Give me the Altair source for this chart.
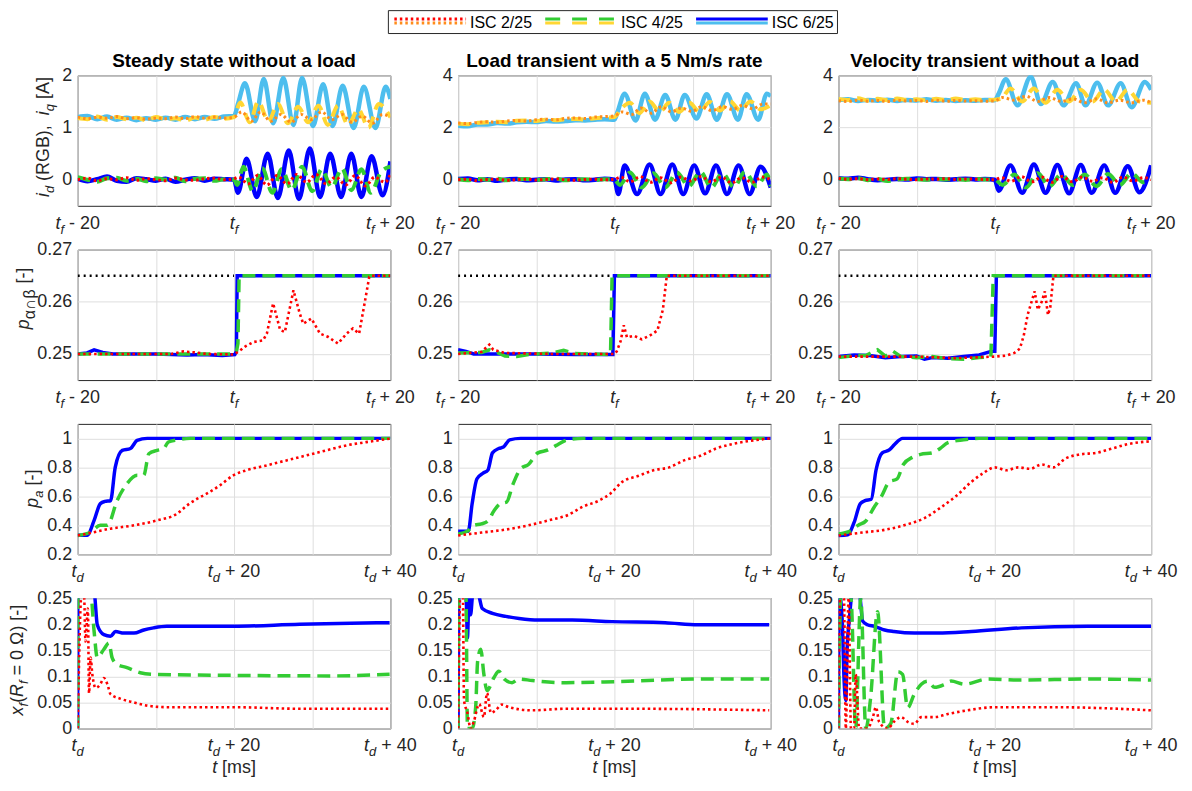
import altair as alt
import pandas as pd

FONT = "Liberation Sans"
INK = "#262626"
GRID = "#dedede"
RED, ORANGE, GREEN, YELLOW, BLUE, LBLUE = "#ff0000", "#ff8c1a", "#33cc33", "#ffd633", "#0000ff", "#4dbeee"

TITLES = ["Steady state without a load", "Load transient with a 5 Nm/s rate",
          "Velocity transient without a load"]
LEGEND_LABELS = ["ISC 2/25", "ISC 4/25", "ISC 6/25"]

# ---------------- Row 1: currents (t - t_f, ms) ----------------
TB = [-20.0, -18.75, -17.5, -16.25, -15.0, -13.75, -12.5, -11.25, -10.0, -8.75, -7.5, -6.25, -5.0, -3.75, -2.5, -1.25, 0.0]

# column 1: steady state
R1C1_IQ6_PRE = [1.20, 1.22, 1.16, 1.21, 1.15, 1.19, 1.14, 1.18, 1.15, 1.19, 1.15, 1.20, 1.16, 1.20, 1.17, 1.21, 1.22]
R1C1_IQ6_T = [0.5, 1.4, 2.7, 3.8, 5.0, 6.3, 7.6, 8.7, 10.1, 11.4, 12.6, 13.9, 15.3, 16.6, 18.1, 19.4, 20.0]
R1C1_IQ6_V = [1.45, 1.85, 1.12, 1.93, 1.08, 1.95, 1.05, 1.95, 1.03, 1.83, 1.03, 1.80, 0.99, 1.78, 0.99, 1.78, 1.55]
R1C1_IQ4_PRE = [1.18, 1.16, 1.21, 1.15, 1.20, 1.16, 1.19, 1.14, 1.20, 1.16, 1.18, 1.13, 1.19, 1.15, 1.20, 1.17, 1.20]
R1C1_IQ4_T = [0.8, 2.0, 3.1, 4.4, 5.6, 6.9, 8.2, 9.5, 10.8, 12.0, 13.3, 14.6, 15.9, 17.2, 18.5, 20.0]
R1C1_IQ4_V = [1.48, 1.10, 1.50, 1.12, 1.45, 1.08, 1.40, 1.10, 1.42, 1.05, 1.42, 1.05, 1.35, 1.00, 1.45, 1.20]
R1C1_IQ2_PRE = [1.20, 1.17, 1.20, 1.18, 1.21, 1.17, 1.19, 1.16, 1.18, 1.17, 1.20, 1.17, 1.21, 1.18, 1.20, 1.18, 1.20]
R1C1_IQ2_T = [1.0, 2.2, 3.4, 4.7, 6.0, 7.3, 8.6, 9.9, 11.2, 12.5, 13.8, 15.1, 16.4, 17.7, 19.0, 20.0]
R1C1_IQ2_V = [1.30, 1.12, 1.30, 1.12, 1.25, 1.10, 1.25, 1.15, 1.30, 1.15, 1.25, 1.10, 1.22, 1.08, 1.25, 1.20]
R1C1_ID6_PRE = [0.02, -0.03, 0.01, 0.06, -0.02, -0.04, 0.03, 0.01, -0.02, 0.02, -0.04, 0.00, 0.03, -0.02, 0.02, 0.01, 0.00]
R1C1_ID6_T = [0.5, 1.6, 2.9, 4.3, 5.6, 7.0, 8.3, 9.7, 11.0, 12.3, 13.7, 15.0, 16.3, 17.6, 19.0, 20.0]
R1C1_ID6_V = [-0.25, 0.40, -0.33, 0.50, -0.35, 0.56, -0.37, 0.60, -0.33, 0.50, -0.33, 0.50, -0.33, 0.45, -0.30, 0.35]
R1C1_ID4_PRE = [0.05, 0.00, -0.04, 0.03, 0.04, -0.02, 0.02, -0.03, 0.03, 0.00, 0.04, -0.03, 0.02, 0.03, -0.02, 0.01, 0.00]
R1C1_ID4_T = [0.4, 1.2, 2.4, 3.6, 4.9, 6.1, 7.4, 8.7, 10.0, 11.2, 12.5, 13.8, 15.0, 16.3, 17.5, 18.8, 20.0]
R1C1_ID4_V = [-0.10, 0.25, -0.22, 0.22, -0.25, 0.20, -0.20, 0.25, -0.22, 0.20, -0.15, 0.22, -0.20, 0.20, -0.25, 0.15, 0.25]
R1C1_ID2_PRE = [0.00, 0.03, -0.02, 0.02, 0.00, 0.04, -0.01, 0.02, 0.00, -0.02, 0.03, 0.00, -0.01, 0.02, 0.03, 0.00, 0.02]
R1C1_ID2_T = [0.6, 1.8, 3.0, 4.2, 5.5, 6.8, 8.0, 9.3, 10.5, 11.8, 13.0, 14.3, 15.5, 16.8, 18.0, 19.3, 20.0]
R1C1_ID2_V = [0.05, -0.08, 0.08, -0.10, 0.08, -0.08, 0.10, -0.05, 0.10, -0.08, 0.05, -0.10, 0.08, -0.12, 0.05, -0.05, 0.10]

# column 2: load transient
R1C2_IQ6_PRE = [2.07, 2.05, 2.12, 2.12, 2.17, 2.15, 2.20, 2.22, 2.21, 2.25, 2.23, 2.25, 2.28, 2.27, 2.30, 2.32, 2.30]
R1C2_IQ6_T = [0.4, 1.3, 2.7, 3.9, 5.2, 6.5, 7.8, 9.0, 10.5, 11.8, 13.1, 14.4, 15.8, 16.9, 18.4, 19.5, 20.0]
R1C2_IQ6_V = [2.60, 3.30, 2.27, 3.30, 2.30, 3.25, 2.30, 3.25, 2.35, 3.28, 2.30, 3.28, 2.30, 3.28, 2.30, 3.30, 3.20]
R1C2_IQ4_PRE = [2.15, 2.13, 2.18, 2.20, 2.22, 2.20, 2.26, 2.27, 2.25, 2.30, 2.28, 2.32, 2.33, 2.31, 2.36, 2.38, 2.40]
R1C2_IQ4_T = [0.8, 2.0, 3.2, 4.5, 5.8, 7.0, 8.3, 9.6, 10.9, 12.2, 13.5, 14.8, 16.1, 17.4, 18.7, 20.0]
R1C2_IQ4_V = [2.70, 2.95, 2.55, 3.00, 2.60, 2.95, 2.60, 2.95, 2.60, 2.98, 2.65, 3.00, 2.65, 3.00, 2.70, 2.85]
R1C2_IQ2_PRE = [2.17, 2.15, 2.20, 2.22, 2.20, 2.25, 2.27, 2.25, 2.30, 2.32, 2.30, 2.35, 2.37, 2.35, 2.40, 2.42, 2.45]
R1C2_IQ2_T = [1.0, 2.2, 3.4, 4.7, 6.0, 7.3, 8.6, 9.9, 11.2, 12.5, 13.8, 15.1, 16.4, 17.7, 19.0, 20.0]
R1C2_IQ2_V = [2.60, 2.50, 2.75, 2.55, 2.80, 2.60, 2.75, 2.62, 2.80, 2.65, 2.80, 2.70, 2.85, 2.72, 2.90, 2.90]
R1C2_ID6_PRE = [0.03, 0.05, -0.02, 0.02, -0.04, 0.01, 0.03, -0.02, 0.00, 0.02, -0.03, 0.01, 0.02, -0.02, 0.00, 0.04, 0.00]
R1C2_ID6_T = [0.5, 1.3, 2.9, 4.5, 5.9, 7.4, 8.8, 10.2, 11.6, 13.0, 14.4, 15.9, 17.3, 18.7, 20.0]
R1C2_ID6_V = [-0.55, 0.55, -0.55, 0.58, -0.55, 0.58, -0.55, 0.55, -0.52, 0.55, -0.55, 0.55, -0.55, 0.50, -0.30]
R1C2_ID4_PRE = [0.02, -0.02, 0.03, 0.00, 0.04, -0.02, 0.01, 0.03, -0.01, 0.02, 0.04, -0.02, 0.01, 0.02, -0.01, 0.02, 0.00]
R1C2_ID4_T = [0.7, 2.0, 3.5, 5.0, 6.5, 8.0, 9.5, 11.0, 12.4, 13.8, 15.3, 16.7, 18.2, 19.5, 20.0]
R1C2_ID4_V = [-0.20, 0.28, -0.30, 0.25, -0.30, 0.28, -0.25, 0.30, -0.30, 0.25, -0.28, 0.30, -0.25, 0.20, -0.25]
R1C2_ID2_PRE = [0.00, 0.02, -0.03, 0.01, 0.02, -0.02, 0.00, 0.02, -0.01, 0.01, 0.03, 0.00, -0.02, 0.01, 0.02, 0.00, 0.01]
R1C2_ID2_T = [0.8, 2.0, 3.3, 4.6, 5.9, 7.2, 8.5, 9.8, 11.1, 12.4, 13.7, 15.0, 16.3, 17.6, 18.9, 20.0]
R1C2_ID2_V = [0.10, -0.08, 0.12, -0.10, 0.08, -0.12, 0.10, -0.05, 0.12, -0.08, 0.10, -0.12, 0.08, -0.10, 0.10, 0.00]

# column 3: velocity transient
R1C3_IQ6_PRE = [3.05, 3.08, 3.02, 3.06, 3.03, 3.07, 3.02, 3.06, 3.04, 3.08, 3.03, 3.06, 3.02, 3.05, 3.03, 3.06, 3.05]
R1C3_IQ6_T = [0.5, 1.4, 2.9, 4.6, 5.9, 7.4, 8.8, 10.4, 11.6, 13.1, 14.5, 16.1, 17.5, 19.2, 20.0]
R1C3_IQ6_V = [3.30, 3.85, 2.85, 3.95, 2.90, 3.75, 2.85, 3.70, 2.85, 3.72, 2.85, 3.70, 2.78, 3.75, 3.45]
R1C3_IQ4_PRE = [3.10, 3.06, 3.12, 3.04, 3.10, 3.05, 3.11, 3.06, 3.08, 3.04, 3.10, 3.05, 3.11, 3.06, 3.08, 3.05, 3.07]
R1C3_IQ4_T = [0.8, 2.0, 3.5, 5.0, 6.5, 8.0, 9.5, 11.0, 12.5, 14.0, 15.5, 17.0, 18.5, 20.0]
R1C3_IQ4_V = [3.10, 3.50, 3.00, 3.50, 2.95, 3.45, 3.00, 3.45, 3.00, 3.45, 3.00, 3.45, 3.00, 2.95]
R1C3_IQ2_PRE = [3.03, 3.00, 3.05, 3.01, 3.04, 3.00, 3.05, 3.02, 3.04, 3.00, 3.05, 3.01, 3.04, 3.02, 3.03, 3.01, 3.02]
R1C3_IQ2_T = [1.0, 2.5, 4.0, 5.5, 7.0, 8.5, 10.0, 11.5, 13.0, 14.5, 16.0, 17.5, 19.0, 20.0]
R1C3_IQ2_V = [3.15, 3.05, 3.20, 3.00, 3.15, 3.00, 3.10, 2.95, 3.10, 2.95, 3.05, 2.95, 3.05, 2.95]
R1C3_ID6_PRE = [0.06, 0.04, 0.08, 0.02, -0.02, 0.00, 0.03, 0.01, 0.05, 0.02, 0.03, 0.00, 0.02, 0.04, 0.01, 0.03, 0.00]
R1C3_ID6_T = [0.5, 2.0, 3.5, 5.0, 6.5, 8.0, 9.5, 11.0, 12.4, 14.0, 15.4, 17.0, 18.5, 20.0]
R1C3_ID6_V = [-0.42, 0.55, -0.50, 0.58, -0.50, 0.56, -0.52, 0.56, -0.50, 0.55, -0.50, 0.52, -0.48, 0.55]
R1C3_ID4_PRE = [0.05, 0.02, 0.06, -0.02, 0.03, -0.05, 0.01, 0.04, 0.02, 0.00, 0.03, 0.01, 0.02, -0.01, 0.03, 0.01, 0.00]
R1C3_ID4_T = [1.0, 2.5, 4.0, 5.5, 7.0, 8.5, 10.0, 11.5, 13.0, 14.5, 16.0, 17.5, 19.0, 20.0]
R1C3_ID4_V = [-0.20, 0.20, -0.30, 0.25, -0.25, 0.20, -0.20, 0.20, -0.25, 0.22, -0.20, 0.25, -0.10, 0.00]
R1C3_ID2_PRE = [0.05, 0.02, 0.04, 0.00, 0.03, 0.01, 0.04, 0.02, 0.00, 0.03, 0.02, 0.04, 0.01, 0.03, 0.02, 0.01, 0.00]
R1C3_ID2_T = [0.8, 2.1, 3.4, 4.7, 6.0, 7.3, 8.6, 9.9, 11.2, 12.5, 13.8, 15.1, 16.4, 17.7, 19.0, 20.0]
R1C3_ID2_V = [0.08, -0.06, 0.12, -0.08, 0.10, -0.10, 0.12, -0.08, 0.10, -0.06, 0.08, -0.10, 0.10, -0.05, 0.08, 0.00]

# ---------------- Row 2: p_{alpha cap beta} ----------------
R2_REF_T = [-20, 0]
R2_REF_V = [0.265, 0.265]
R2C1_B_T = [-20, -18.8, -17.9, -16.8, -15.5, -10, -6, -4, -1.5, 0.1, 0.3, 0.4, 20]
R2C1_B_V = [0.25, 0.2502, 0.2508, 0.2503, 0.25, 0.25, 0.2498, 0.2499, 0.2497, 0.2499, 0.2505, 0.265, 0.265]
R2C1_G_T = [-20, -10, 0, 0.3, 0.5, 0.65, 20]
R2C1_G_V = [0.25, 0.25, 0.25, 0.2505, 0.252, 0.265, 0.265]
R2C1_R_T = [-20, -8, -6.5, -5, -3.5, 0, 0.8, 1.5, 2.5, 3.7, 4.2, 5.0, 5.9, 6.5, 7.6, 8.4, 8.85, 9.9, 11.0, 12.0,
            13.3, 14.4, 15.2, 16.0, 16.7, 17.3, 17.5, 20]
R2C1_R_V = [0.25, 0.25, 0.2505, 0.2503, 0.25, 0.2499, 0.2507, 0.2515, 0.2523, 0.2526, 0.2539, 0.2597, 0.2546,
            0.2542, 0.2622, 0.2578, 0.2558, 0.2568, 0.2539, 0.2533, 0.252, 0.2539, 0.2549, 0.2539, 0.2597, 0.2648,
            0.265, 0.265]
R2C2_B_T = [-20, -19, -18, -10, -5, -0.2, 0, 20]
R2C2_B_V = [0.2508, 0.2505, 0.25, 0.25, 0.2499, 0.2499, 0.265, 0.265]
R2C2_G_T = [-20, -17, -16, -15, -14, -12.5, -11, -8, -6.5, -5, -3, -0.5, -0.3, 20]
R2C2_G_V = [0.2502, 0.2503, 0.2508, 0.2503, 0.2496, 0.2495, 0.2499, 0.2502, 0.2507, 0.2501, 0.25, 0.2499, 0.265, 0.265]
R2C2_R_T = [-20, -17, -16, -15.5, -14, -8, 0, 0.3, 0.8, 1.2, 1.6, 2.5, 3.5, 4.5, 5.5, 6.2, 6.7, 20]
R2C2_R_V = [0.25, 0.2504, 0.2518, 0.2508, 0.2502, 0.25, 0.25, 0.2505, 0.2525, 0.2555, 0.2532, 0.2535, 0.2528,
            0.2535, 0.2545, 0.2585, 0.265, 0.265]
R2C3_B_T = [-20, -18, -16, -14, -12, -10, -9, -8, -6, -4, -2, -0.5, 0, 0.2, 20]
R2C3_B_V = [0.2495, 0.2498, 0.2497, 0.2493, 0.2495, 0.2496, 0.249, 0.2493, 0.2492, 0.2495, 0.2498, 0.2505, 0.2505,
            0.265, 0.265]
R2C3_G_T = [-20, -18, -16.5, -15, -14, -13, -12, -10, -8, -6, -4, -2, -0.5, -0.2, 20]
R2C3_G_V = [0.2493, 0.2497, 0.2497, 0.2508, 0.2496, 0.2505, 0.2495, 0.2493, 0.2495, 0.2491, 0.249, 0.2493, 0.2495,
            0.265, 0.265]
R2C3_R_T = [-20, -10, -5, 0, 1.5, 2.5, 3.2, 3.7, 4.2, 4.7, 5.1, 5.5, 6.0, 6.4, 6.8, 7.1, 7.5, 20]
R2C3_R_V = [0.2495, 0.2495, 0.2492, 0.2495, 0.2497, 0.2502, 0.251, 0.2535, 0.2575, 0.26, 0.262, 0.2585, 0.26, 0.262,
            0.2575, 0.259, 0.265, 0.265]

# ---------------- Row 3: p_a (t - t_d, ms) ----------------
R3C1_B_T = [0, 1.2, 2.1, 2.9, 3.5, 4.2, 4.8, 5.7, 6.75, 7.6, 8.9, 40]
R3C1_B_V = [0.331, 0.331, 0.434, 0.55, 0.565, 0.57, 0.80, 0.917, 0.93, 0.986, 1.0, 1.0]
R3C1_G_T = [0, 1.65, 2.9, 3.8, 5.05, 6.3, 7.6, 8.45, 9.1, 10.15, 11.0, 11.6, 12.7, 14.4, 40]
R3C1_G_V = [0.33, 0.354, 0.40, 0.40, 0.572, 0.687, 0.745, 0.745, 0.894, 0.917, 0.93, 0.975, 0.99, 1.0, 1.0]
R3C1_R_T = [0, 1.2, 4.2, 7.2, 10.15, 12.7, 14.0, 15.3, 16.5, 18.2, 19.9, 21.6, 24.2, 26.7, 29.3, 31.8, 34.4, 36.9, 39.9]
R3C1_R_V = [0.33, 0.343, 0.377, 0.40, 0.434, 0.48, 0.538, 0.584, 0.618, 0.676, 0.745, 0.78, 0.814, 0.848, 0.883,
            0.917, 0.952, 0.974, 0.998]
R3C2_B_T = [0, 1.3, 1.8, 2.4, 3.2, 3.8, 4.4, 5.2, 5.8, 6.6, 8.0, 40]
R3C2_B_V = [0.36, 0.36, 0.55, 0.72, 0.76, 0.78, 0.90, 0.93, 0.94, 0.99, 1.0, 1.0]
R3C2_G_T = [0, 1.2, 2.0, 3.0, 3.8, 4.6, 5.4, 6.2, 7.0, 8.0, 9.0, 10.2, 11.5, 12.5, 14.0, 16.0, 40]
R3C2_G_V = [0.34, 0.36, 0.40, 0.41, 0.43, 0.50, 0.55, 0.56, 0.68, 0.79, 0.82, 0.90, 0.92, 0.95, 0.99, 1.0, 1.0]
R3C2_R_T = [0, 3, 6, 9, 12, 14, 16, 18, 19.5, 21, 23, 25, 27, 29, 31, 33, 35, 37, 40]
R3C2_R_V = [0.33, 0.35, 0.37, 0.40, 0.44, 0.47, 0.53, 0.57, 0.62, 0.70, 0.74, 0.78, 0.80, 0.85, 0.88, 0.93, 0.96,
            0.98, 1.0]
R3C3_B_T = [0, 1.2, 2.0, 2.8, 3.4, 4.2, 4.8, 5.6, 6.5, 7.2, 8.2, 40]
R3C3_B_V = [0.33, 0.335, 0.42, 0.55, 0.57, 0.58, 0.78, 0.90, 0.92, 0.96, 1.0, 1.0]
R3C3_G_T = [0, 1.5, 2.5, 3.5, 4.5, 5.5, 6.5, 7.5, 8.3, 9.5, 10.5, 12, 13, 14, 16, 18, 40]
R3C3_G_V = [0.34, 0.36, 0.40, 0.43, 0.52, 0.60, 0.70, 0.72, 0.82, 0.87, 0.89, 0.90, 0.93, 0.97, 0.99, 1.0, 1.0]
R3C3_R_T = [0, 3, 6, 9, 11, 13, 15, 17, 18.5, 20, 21.5, 23, 24.5, 26, 27.5, 29, 31, 33, 35, 37, 40]
R3C3_R_V = [0.33, 0.35, 0.37, 0.41, 0.45, 0.52, 0.60, 0.70, 0.76, 0.80, 0.78, 0.80, 0.79, 0.82, 0.80, 0.86, 0.89,
            0.90, 0.93, 0.96, 0.98]

# ---------------- Row 4: x_f(R_f = 0) ----------------
R4C1_B_T = [0, 0.02, 2.1, 2.5, 3.35, 4.2, 4.84, 5.9, 7.2, 8.45, 9.7, 11.4, 19.9, 28.4, 39.9]
R4C1_B_V = [0, 0.26, 0.26, 0.199, 0.18, 0.177, 0.186, 0.183, 0.183, 0.189, 0.193, 0.196, 0.196, 0.2, 0.203]
R4C1_G_T = [0, 0.02, 1.65, 2.1, 2.5, 3.35, 4.0, 4.4, 5.05, 6.3, 8.0, 9.7, 19.9, 32.6, 39.9]
R4C1_G_V = [0, 0.26, 0.26, 0.186, 0.136, 0.152, 0.164, 0.136, 0.123, 0.117, 0.107, 0.104, 0.102, 0.101, 0.104]
R4C1_R_T = [0, 0.5, 0.8, 1.0, 1.3, 1.45, 1.65, 1.87, 2.3, 2.9, 3.35, 3.8, 4.2, 5.5, 7.2, 8.9, 11.4, 19.9, 28.4, 39.9]
R4C1_R_V = [0, 0.26, 0.26, 0.167, 0.23, 0.068, 0.136, 0.104, 0.078, 0.085, 0.097, 0.085, 0.066, 0.057, 0.05, 0.044,
            0.041, 0.041, 0.038, 0.038]
R4C2_B_T = [0, 0.1, 1.0, 1.2, 1.4, 1.6, 1.9, 2.5, 3.1, 4.4, 6.1, 7.8, 10.3, 14.6, 19.7, 26.5, 30.7, 39.8]
R4C2_B_V = [0, 0.26, 0.26, 0.174, 0.26, 0.218, 0.26, 0.26, 0.23, 0.221, 0.215, 0.211, 0.208, 0.208, 0.205, 0.203,
            0.199, 0.199]
R4C2_G_T = [0, 0.05, 1.0, 1.2, 1.8, 2.25, 2.5, 2.9, 3.3, 3.7, 4.6, 5.2, 5.9, 6.9, 7.8, 9.5, 13.7, 20.1, 30.7, 39.8]
R4C2_G_V = [0, 0.26, 0.26, 0.0, 0.0, 0.041, 0.129, 0.152, 0.104, 0.073, 0.098, 0.11, 0.095, 0.088, 0.095, 0.092,
            0.088, 0.09, 0.095, 0.095]
R4C2_R_T = [0, 0.3, 0.6, 0.76, 1.2, 1.6, 2.0, 2.7, 3.3, 3.7, 4.2, 4.8, 5.6, 6.5, 9.5, 13.7, 22.2, 39.8]
R4C2_R_V = [0, 0.26, 0.26, 0.054, 0.03, 0.0, 0.013, 0.047, 0.022, 0.068, 0.03, 0.035, 0.046, 0.041, 0.035, 0.038,
            0.038, 0.035]
R4C3_B_T = [0, 0.1, 0.5, 0.7, 0.94, 1.1, 1.37, 1.8, 2.65, 3.1, 3.7, 4.6, 5.9, 7.1, 9.7, 12.7, 17.0, 23.4, 31.9, 40]
R4C3_B_V = [0, 0.26, 0.2, 0.1, 0.054, 0.15, 0.206, 0.26, 0.26, 0.206, 0.199, 0.196, 0.189, 0.186, 0.183, 0.183,
            0.186, 0.193, 0.196, 0.196]
R4C3_G_T = [0, 0.3, 1.0, 1.6, 2.2, 2.85, 3.5, 4.1, 5.0, 5.9, 6.7, 7.6, 8.2, 8.85, 9.7, 10.6, 11.4, 12.3, 13.6, 14.4,
            16.1, 19.1, 23.4, 31.9, 40]
R4C3_G_V = [0, 0.26, 0.26, 0.25, 0.0, 0.25, 0.0, 0.057, 0.224, 0.0, 0.01, 0.109, 0.104, 0.04, 0.066, 0.085, 0.091,
            0.079, 0.085, 0.091, 0.085, 0.095, 0.093, 0.095, 0.093]
R4C3_R_T = [0, 0.2, 0.7, 0.94, 1.3, 1.6, 2.0, 2.2, 2.65, 3.7, 4.4, 4.8, 5.2, 6.3, 7.1, 8.0, 8.85, 9.7, 10.6, 12.3,
            14.0, 16.5, 20, 27.7, 40]
R4C3_R_V = [0, 0.26, 0.25, 0.0, 0.25, 0.0, 0.0, 0.104, 0.0, 0.0, 0.022, 0.041, 0.013, 0.0, 0.013, 0.022, 0.013,
            0.009, 0.022, 0.022, 0.028, 0.035, 0.041, 0.041, 0.035]

# axis ranges / ticks per row (and per column for row 1)
Y_SPECS = {
    (0, 0): ([-0.5, 2], [0, 1, 2]),
    (0, 1): ([-1, 4], [0, 2, 4]),
    (0, 2): ([-1, 4], [0, 2, 4]),
}
for _c in range(3):
    Y_SPECS[(1, _c)] = ([0.245, 0.27], [0.25, 0.26, 0.27])
    Y_SPECS[(2, _c)] = ([0.2, 1.1], [0.2, 0.4, 0.6, 0.8, 1])
    Y_SPECS[(3, _c)] = ([0, 0.25], [0, 0.05, 0.1, 0.15, 0.2, 0.25])


def pre_post(pre, t, v):
    return TB + t, pre + v


SERIES = {
    (0, 0): [(*pre_post(R1C1_IQ6_PRE, R1C1_IQ6_T, R1C1_IQ6_V), "lblue"),
             (*pre_post(R1C1_IQ4_PRE, R1C1_IQ4_T, R1C1_IQ4_V), "yellow"),
             (*pre_post(R1C1_IQ2_PRE, R1C1_IQ2_T, R1C1_IQ2_V), "orange"),
             (*pre_post(R1C1_ID6_PRE, R1C1_ID6_T, R1C1_ID6_V), "blue"),
             (*pre_post(R1C1_ID4_PRE, R1C1_ID4_T, R1C1_ID4_V), "green"),
             (*pre_post(R1C1_ID2_PRE, R1C1_ID2_T, R1C1_ID2_V), "red")],
    (0, 1): [(*pre_post(R1C2_IQ6_PRE, R1C2_IQ6_T, R1C2_IQ6_V), "lblue"),
             (*pre_post(R1C2_IQ4_PRE, R1C2_IQ4_T, R1C2_IQ4_V), "yellow"),
             (*pre_post(R1C2_IQ2_PRE, R1C2_IQ2_T, R1C2_IQ2_V), "orange"),
             (*pre_post(R1C2_ID6_PRE, R1C2_ID6_T, R1C2_ID6_V), "blue"),
             (*pre_post(R1C2_ID4_PRE, R1C2_ID4_T, R1C2_ID4_V), "green"),
             (*pre_post(R1C2_ID2_PRE, R1C2_ID2_T, R1C2_ID2_V), "red")],
    (0, 2): [(*pre_post(R1C3_IQ6_PRE, R1C3_IQ6_T, R1C3_IQ6_V), "lblue"),
             (*pre_post(R1C3_IQ4_PRE, R1C3_IQ4_T, R1C3_IQ4_V), "yellow"),
             (*pre_post(R1C3_IQ2_PRE, R1C3_IQ2_T, R1C3_IQ2_V), "orange"),
             (*pre_post(R1C3_ID6_PRE, R1C3_ID6_T, R1C3_ID6_V), "blue"),
             (*pre_post(R1C3_ID4_PRE, R1C3_ID4_T, R1C3_ID4_V), "green"),
             (*pre_post(R1C3_ID2_PRE, R1C3_ID2_T, R1C3_ID2_V), "red")],
    (1, 0): [(R2_REF_T, R2_REF_V, "black"), (R2C1_B_T, R2C1_B_V, "blue"), (R2C1_G_T, R2C1_G_V, "green"),
             (R2C1_R_T, R2C1_R_V, "red")],
    (1, 1): [(R2_REF_T, R2_REF_V, "black"), (R2C2_B_T, R2C2_B_V, "blue"), (R2C2_G_T, R2C2_G_V, "green"),
             (R2C2_R_T, R2C2_R_V, "red")],
    (1, 2): [(R2_REF_T, R2_REF_V, "black"), (R2C3_B_T, R2C3_B_V, "blue"), (R2C3_G_T, R2C3_G_V, "green"),
             (R2C3_R_T, R2C3_R_V, "red")],
    (2, 0): [(R3C1_B_T, R3C1_B_V, "blue"), (R3C1_G_T, R3C1_G_V, "green"), (R3C1_R_T, R3C1_R_V, "red")],
    (2, 1): [(R3C2_B_T, R3C2_B_V, "blue"), (R3C2_G_T, R3C2_G_V, "green"), (R3C2_R_T, R3C2_R_V, "red")],
    (2, 2): [(R3C3_B_T, R3C3_B_V, "blue"), (R3C3_G_T, R3C3_G_V, "green"), (R3C3_R_T, R3C3_R_V, "red")],
    (3, 0): [(R4C1_B_T, R4C1_B_V, "blue"), (R4C1_G_T, R4C1_G_V, "green"), (R4C1_R_T, R4C1_R_V, "red")],
    (3, 1): [(R4C2_B_T, R4C2_B_V, "blue"), (R4C2_G_T, R4C2_G_V, "green"), (R4C2_R_T, R4C2_R_V, "red")],
    (3, 2): [(R4C3_B_T, R4C3_B_V, "blue"), (R4C3_G_T, R4C3_G_V, "green"), (R4C3_R_T, R4C3_R_V, "red")],
}

W, H = 314, 131


def style(key, row):
    big = row == 0
    solid = 4.5 if big else 3.5
    dashed = 4.0 if big else 3.5
    dotted = 3.0 if big else 2.6
    table = {
        "lblue": (LBLUE, None, solid), "blue": (BLUE, None, solid),
        "yellow": (YELLOW, [12, 7], dashed), "green": (GREEN, [13, 7], dashed),
        "orange": (ORANGE, [2.5, 3], dotted), "red": (RED, [2.5, 3], dotted),
        "black": ("#000000", [2, 4], 2.4),
    }
    return table[key]


# Arial / Liberation Sans advance widths (1/1000 em)
WID = {' ': 278, '(': 333, ')': 333, ',': 278, '-': 333, '.': 278, '/': 278, '=': 584, '+': 584, '[': 278,
       ']': 278, 'A': 667, 'B': 667, 'C': 722, 'G': 778, 'I': 278, 'R': 722, 'S': 667, 'a': 556, 'd': 556,
       'f': 278, 'i': 222, 'm': 833, 'p': 556, 'q': 556, 's': 500, 't': 278, 'x': 500, 'Ω': 768, 'α': 578,
       'β': 575, '∩': 770}
for _ch in "0123456789":
    WID[_ch] = 556


def tw(s, size):
    return sum(WID.get(ch, 556) for ch in s) * size / 1000.0


ONE = pd.DataFrame({"k": [0]})


def text_pieces(pieces, data, enc, angle=None, center=True):
    """Lay out rich text (italic / subscript) as consecutive text marks.
    Leading/trailing blanks are turned into offsets (SVG collapses them)."""
    total = sum(tw(p[0], p[1]) for p in pieces)
    off = -total / 2.0 if center else 0.0
    out = []
    for txt, size, italic, dy in pieces:
        core = txt.strip(" ")
        lead = len(txt) - len(txt.lstrip(" "))
        trail = len(txt) - len(txt.rstrip(" "))
        off += tw(" " * lead, size)
        mk = dict(text=core, align="left", baseline="alphabetic", dx=round(off, 2), dy=dy, fontSize=size,
                  font=FONT, color=INK)
        if italic:
            mk["fontStyle"] = "italic"
        if angle is not None:
            mk["angle"] = angle
        out.append(alt.Chart(data).mark_text(**mk).encode(**enc))
        off += tw(core, size) + tw(" " * trail, size)
    return out


Y_TITLES = [
    ([("i", 18, True, 0), ("d", 13, True, 5), (" (RGB),  ", 18, False, 0), ("i", 18, True, 0),
      ("q", 13, True, 5), (" [A]", 18, False, 0)], -29, 62),
    ([("p", 18, True, 0), ("α∩β", 16, False, 6), (" [-]", 18, False, 0)], -49, 49),
    ([("p", 18, True, 0), ("a", 13, True, 5), (" [-]", 18, False, 0)], -40, 65),
    ([("x", 18, True, 0), ("f", 13, True, 5), ("(", 18, False, 0), ("R", 18, True, 0), ("f", 13, True, 5),
      (" = 0 Ω) [-]", 18, False, 0)], -55, 62),
]


def make_panel(r, c):
    if r < 2:
        xdom, xgrid, sub = [-20, 20], [-20, -10, 0, 10, 20], "f"
        xlabels = [(-20, " - 20"), (0, ""), (20, " + 20")]
    else:
        xdom, xgrid, sub = [0, 40], [0, 10, 20, 30, 40], "d"
        xlabels = [(0, ""), (20, " + 20"), (40, " + 40")]
    ydom, yticks = Y_SPECS[(r, c)]
    xs = alt.Scale(domain=xdom, nice=False, zero=False)
    ys = alt.Scale(domain=ydom, nice=False, zero=False)
    xax = alt.Axis(values=xgrid, labels=False, ticks=False, domain=False, title=None, grid=True)
    yax = alt.Axis(values=yticks, format="~g", ticks=False, domain=False, title=None, grid=True, labelPadding=6)

    layers = []
    for t, v, key in SERIES[(r, c)]:
        n = min(len(t), len(v))
        df = pd.DataFrame({"t": t[:n], "v": v[:n]})
        color, dash, width = style(key, r)
        kw = dict(color=color, strokeWidth=width, clip=True, interpolate="linear" if r == 1 else "monotone")
        if dash:
            kw["strokeDash"] = dash
        layers.append(alt.Chart(df).mark_line(**kw).encode(
            x=alt.X("t:Q", scale=xs, axis=xax),
            y=alt.Y("v:Q", scale=ys, axis=yax)))

    # x tick labels with subscripts
    for val, suffix in xlabels:
        pieces = [("t", 18, True, 0), (sub, 13, True, 5)]
        if suffix:
            pieces.append((suffix, 18, False, 0))
        layers += text_pieces(pieces, pd.DataFrame({"t": [val]}),
                              dict(x=alt.X("t:Q", scale=xs, axis=xax), y=alt.value(H + 23)))

    # y title (first column)
    if c == 0:
        pieces, xb, yc = Y_TITLES[r]
        layers += text_pieces(pieces, ONE, dict(x=alt.value(xb), y=alt.value(yc)), angle=270)

    # x title (bottom row)
    if r == 3:
        layers += text_pieces([("t", 18, True, 0), (" [ms]", 18, False, 0)], ONE,
                              dict(x=alt.value(W / 2), y=alt.value(H + 45)))

    # column titles (top row)
    if r == 0:
        layers.append(alt.Chart(ONE).mark_text(text=TITLES[c], align="center", baseline="alphabetic",
                                               fontSize=19, fontWeight="bold", font=FONT, color="#000000")
                      .encode(x=alt.value(W / 2), y=alt.value(-8)))

    # legend (drawn above the middle top panel)
    if r == 0 and c == 1:
        top = -65
        layers.append(alt.Chart(ONE).mark_rect(fill="white", stroke=INK, strokeWidth=1).encode(
            x=alt.value(-70), x2=alt.value(381), y=alt.value(top), y2=alt.value(top + 23)))
        pairs = [("red", "orange"), ("green", "yellow"), ("blue", "lblue")]
        for i, (dark, light) in enumerate(pairs):
            x0 = -64 + 151.5 * i
            for key, yy in ((dark, top + 8.5), (light, top + 12.5)):
                color, dash, _w = style(key, 1)
                kw = dict(color=color, strokeWidth=3)
                if dash:
                    kw["strokeDash"] = [2.5, 3] if key in ("red", "orange") else [15, 12]
                layers.append(alt.Chart(ONE).mark_rule(**kw).encode(
                    x=alt.value(x0), x2=alt.value(x0 + 72), y=alt.value(yy)))
            layers.append(alt.Chart(ONE).mark_text(text=LEGEND_LABELS[i], align="left", baseline="alphabetic",
                                                   fontSize=16, font=FONT, color="#000000")
                          .encode(x=alt.value(x0 + 76), y=alt.value(top + 17)))

    return alt.layer(*layers).properties(width=W, height=H)


panels = [make_panel(r, c) for r in range(4) for c in range(3)]

chart = alt.concat(*panels, columns=3, spacing={"row": 44, "column": 68}, bounds="flush").properties(
    padding={"left": 0, "top": 0, "right": 6, "bottom": 4}, background="white"
).configure_view(stroke=INK, strokeWidth=1).configure_axis(
    gridColor=GRID, gridOpacity=1, gridWidth=1, labelFont=FONT, labelFontSize=18, labelColor=INK
)

chart.save("out.html", embed_options={"renderer": "svg", "actions": False})
